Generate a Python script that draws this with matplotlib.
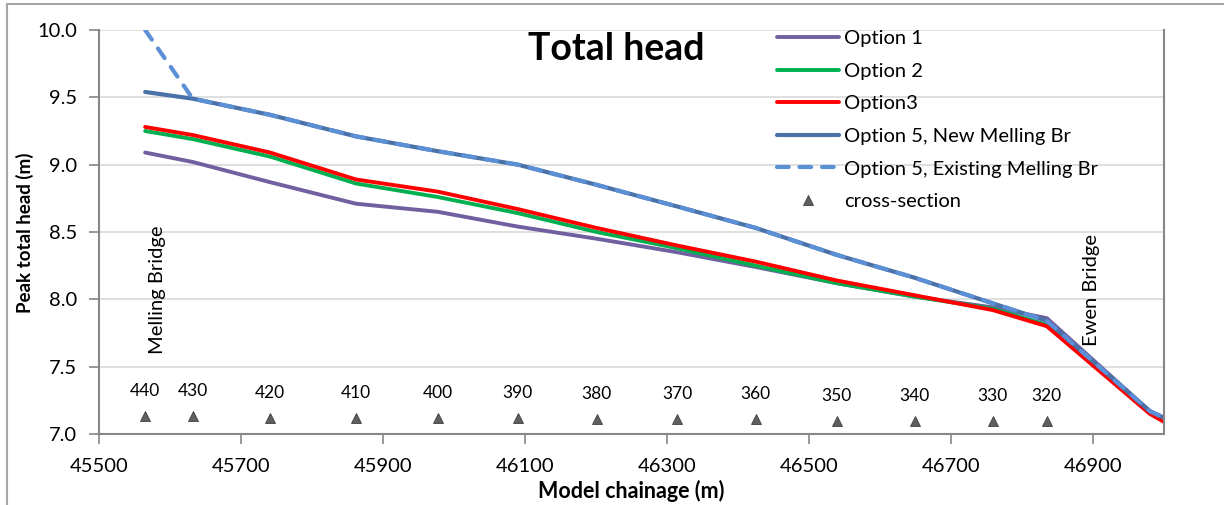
import matplotlib.pyplot as plt
from matplotlib.lines import Line2D

plt.rcParams['font.family'] = ['Lato', 'DejaVu Sans']

# chainage of the model nodes (m)
chainage = [45565, 45632, 45741, 45862, 45977, 46090, 46201, 46314, 46425,
            46539, 46649, 46759, 46835, 46980, 47000]

# peak total head (m) for each option
opt1 = [9.09, 9.02, 8.87, 8.71, 8.65, 8.54, 8.45, 8.35, 8.24, 8.12, 8.02, 7.94, 7.86, 7.17, 7.12]
opt2 = [9.25, 9.19, 9.06, 8.86, 8.76, 8.64, 8.50, 8.38, 8.25, 8.12, 8.02, 7.93, 7.81, 7.16, 7.10]
opt3 = [9.28, 9.22, 9.09, 8.89, 8.80, 8.67, 8.53, 8.40, 8.28, 8.14, 8.03, 7.92, 7.80, 7.15, 7.09]
opt5_new = [9.54, 9.49, 9.37, 9.21, 9.10, 9.00, 8.85, 8.69, 8.53, 8.33, 8.16, 7.97, 7.84, 7.17, 7.12]
opt5_exist = [10.0, 9.49, 9.37, 9.21, 9.10, 9.00, 8.85, 8.69, 8.53, 8.33, 8.16, 7.97, 7.84, 7.17, 7.12]

# cross-section markers
xs_chainage = [45565, 45632, 45741, 45862, 45977, 46090, 46201, 46314, 46425,
               46539, 46649, 46759, 46835]
xs_level = [7.13, 7.13, 7.12, 7.12, 7.12, 7.12, 7.11, 7.11, 7.11, 7.10, 7.10, 7.10, 7.10]
xs_names = ['440', '430', '420', '410', '400', '390', '380', '370', '360',
            '350', '340', '330', '320']

fig = plt.figure(figsize=(12.24, 5.05), dpi=100)
ax = fig.add_axes([99/1224, 1 - 434/505, (1164 - 99)/1224, (434 - 30)/505])

lw = 2.8
ax.plot(chainage, opt1, color='#7060A0', lw=lw, label='Option 1', solid_capstyle='round')
ax.plot(chainage, opt2, color='#00B050', lw=lw, label='Option 2', solid_capstyle='round')
ax.plot(chainage, opt3, color='#FF0000', lw=lw, label='Option3', solid_capstyle='round')
ax.plot(chainage, opt5_new, color='#4A72A8', lw=3.0, label='Option 5, New Melling Br',
        solid_capstyle='round')
ax.plot(chainage, opt5_exist, color='#5B8FD6', lw=3.0, dashes=(2.8, 2.6), dash_capstyle='round',
        label='Option 5, Existing Melling Br')
ax.plot(xs_chainage, xs_level, ls='none', marker='^', ms=7.5, color='#5F5F5F',
        mec='#404040', mew=0.6, label='cross-section')

for x, y, name in zip(xs_chainage, xs_level, xs_names):
    ax.annotate(name, (x, y), xytext=(0, 18), textcoords='offset points',
                ha='center', va='center', fontsize=12.5)

ax.text(45582, 7.594, 'Melling Bridge', rotation=90, ha='center', va='bottom', fontsize=14.5)
ax.text(46898, 7.65, 'Ewen Bridge', rotation=90, ha='center', va='bottom', fontsize=14.5)

ax.set_xlim(45500, 47000)
ax.set_ylim(7.0, 10.0)
ax.set_xticks(range(45500, 47000, 200))
ax.set_yticks([7.0, 7.5, 8.0, 8.5, 9.0, 9.5, 10.0])
ax.set_yticklabels(['%.1f' % v for v in ax.get_yticks()])
ax.tick_params(axis='both', direction='out', length=7, width=1.2, color='#868686',
               labelsize=14.5)
ax.tick_params(axis='x', pad=10)
ax.tick_params(axis='y', pad=9)
ax.yaxis.grid(True, color='#D9D9D9', lw=1.2)
ax.set_axisbelow(True)
for side in ['left', 'bottom', 'right']:
    ax.spines[side].set_color('#868686')
    ax.spines[side].set_linewidth(1.5)
ax.spines['top'].set_visible(False)

ax.set_xlabel('Model chainage (m)', fontsize=15.5, fontweight='bold', labelpad=4)
ax.set_ylabel('Peak total head (m)', fontsize=13.5, fontweight='bold')
ax.yaxis.set_label_coords((34 - 99) / 1065, 0.497)

fig.text(616/1224, 1 - 49/505, 'Total head', fontsize=27, fontweight='bold',
         ha='center', va='center')

ax.legend(loc='upper left', bbox_to_anchor=(777/1224, 1 - 30/505),
          bbox_transform=fig.transFigure, frameon=False, fontsize=14.5,
          handlelength=3.1, handletextpad=0.25, labelspacing=0.77,
          borderpad=0, borderaxespad=0, numpoints=1)

# outer chart frame
fig.add_artist(Line2D([7/1224, 1], [1 - 4/505, 1 - 4/505], color='#A6A6A6', lw=1.5))
fig.add_artist(Line2D([7/1224, 7/1224], [0, 1 - 4/505], color='#A6A6A6', lw=1.5))

fig.savefig('out.png', dpi=100)
